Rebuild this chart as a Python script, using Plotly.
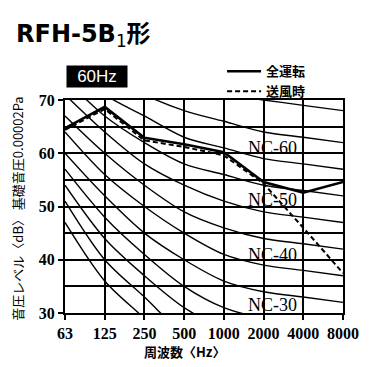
import plotly.graph_objects as go

# ---- data ----
freqs = ["63", "125", "250", "500", "1000", "2000", "4000", "8000"]
full_op = [64.7, 68.7, 62.9, 61.7, 60.2, 54.6, 52.6, 54.6]     # 全運転
fan_only = [64.4, 68.3, 62.4, 61.2, 59.6, 54.3, 46.0, 37.5]    # 送風時

nc_15 = [47, 36, 29, 22, 17, 14, 12, 11]
nc_20 = [51, 40, 33, 26, 22, 19, 17, 16]
nc_25 = [54, 44, 37, 31, 27, 24, 22, 21]
nc_30 = [57, 48, 41, 35, 31, 29, 28, 27]
nc_35 = [60, 52, 45, 40, 36, 34, 33, 32]
nc_40 = [64, 56, 50, 45, 41, 39, 38, 37]
nc_45 = [67, 60, 54, 49, 46, 44, 43, 42]
nc_50 = [71, 64, 58, 54, 51, 49, 48, 47]
nc_55 = [74, 67, 62, 58, 56, 54, 53, 52]
nc_60 = [77, 71, 67, 63, 61, 59, 58, 57]
nc_65 = [80, 75, 71, 68, 66, 64, 63, 62]
nc_70 = [83, 79, 75, 72, 71, 70, 69, 68]
nc_curves = [nc_15, nc_20, nc_25, nc_30, nc_35, nc_40, nc_45, nc_50,
             nc_55, nc_60, nc_65, nc_70]

nc_labels = ["NC-60", "NC-50", "NC-40", "NC-30"]
nc_label_y = [61.0, 51.2, 40.9, 31.5]
nc_label_at = 5  # category index of "2000"

y_ticks = [30, 40, 50, 60, 70]

# ---- figure ----
fig = go.Figure()

for c in nc_curves:
    fig.add_trace(go.Scatter(
        x=freqs, y=c, mode="lines",
        line=dict(color="black", width=1.4, shape="spline", smoothing=0.9),
        showlegend=False, hoverinfo="skip"))

fig.add_trace(go.Scatter(
    x=freqs, y=full_op, mode="lines", name="全運転",
    line=dict(color="black", width=2.6)))
fig.add_trace(go.Scatter(
    x=freqs, y=fan_only, mode="lines", name="送風時",
    line=dict(color="black", width=2.0, dash="5px,3px")))

serif = "Liberation Serif, Times New Roman, serif"
cjk = "Noto Sans CJK JP"

fig.update_xaxes(
    type="category", range=[0, 7],
    showgrid=True, gridcolor="black", gridwidth=1.6,
    showline=True, linecolor="black", linewidth=2, mirror=True,
    ticks="outside", ticklen=5, tickwidth=1.6, tickcolor="black",
    tickfont=dict(family=serif, size=16, color="black", weight="bold"),
    zeroline=False, fixedrange=True, automargin=False)

fig.update_yaxes(
    range=[30, 70], tickvals=y_ticks,
    showgrid=True, gridcolor="black", gridwidth=1.6,
    minor=dict(dtick=5, tick0=30, showgrid=True, gridcolor="black", gridwidth=1.6),
    showline=True, linecolor="black", linewidth=2, mirror=True,
    ticks="outside", ticklen=5, tickwidth=1.6, tickcolor="black",
    tickfont=dict(family=serif, size=16, color="black", weight="bold"),
    zeroline=False, fixedrange=True, automargin=False)

annotations = []
for lab, yv in zip(nc_labels, nc_label_y):
    annotations.append(dict(
        x=nc_label_at, y=yv, xref="x", yref="y", text=lab, showarrow=False,
        font=dict(family=serif, size=18, color="black"), xshift=9,
        xanchor="center", yanchor="middle"))

# title
annotations.append(dict(
    x=-0.183, y=1.305, xref="paper", yref="paper", xanchor="left", yanchor="middle",
    text="<b>RFH-5B</b><sub>1</sub><b>形</b>", showarrow=False,
    font=dict(family="DejaVu Sans, " + cjk, size=24, color="black")))
# 60Hz badge
annotations.append(dict(
    x=0.115, y=1.110, xref="paper", yref="paper", xanchor="center", yanchor="middle",
    text="60Hz", showarrow=False, bgcolor="black", width=58, height=19,
    font=dict(family="Liberation Sans", size=17, color="white")))
# axis titles
annotations.append(dict(
    x=-0.169, y=0.49, xref="paper", yref="paper", xanchor="center", yanchor="middle",
    text="音圧レベル〈dB〉 基礎音圧0.00002Pa", textangle=-90, showarrow=False,
    font=dict(family=cjk, size=13, color="black")))
annotations.append(dict(
    x=0.43, y=-0.183, xref="paper", yref="paper", xanchor="center", yanchor="middle",
    text="周波数〈Hz〉", showarrow=False,
    font=dict(family=cjk, size=13, color="black", weight="bold")))

fig.update_layout(
    width=373, height=367,
    margin=dict(l=65, r=30, t=100, b=54, autoexpand=False),
    paper_bgcolor="white", plot_bgcolor="white",
    annotations=annotations,
    legend=dict(x=0.565, y=1.205, xanchor="left", yanchor="top",
                bgcolor="rgba(0,0,0,0)", itemwidth=34, tracegroupgap=0,
                font=dict(family=cjk, size=13, color="black", weight="bold")),
    showlegend=True)

fig.write_html("out.html", config={"displayModeBar": False},
               post_script="document.body.style.margin='0';document.body.style.overflow='hidden';")
